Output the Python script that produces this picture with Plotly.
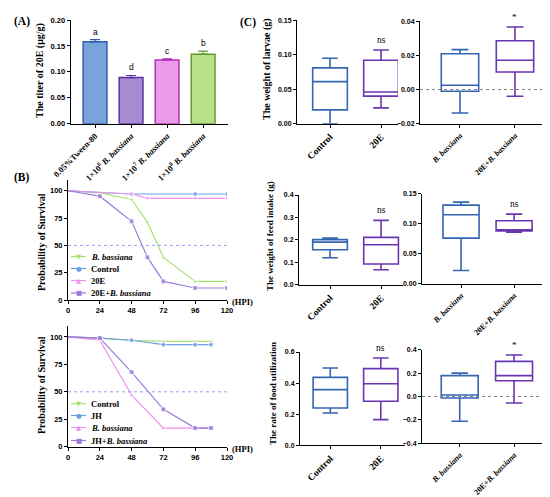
import plotly.graph_objects as go

FIG_W, FIG_H = 550, 497
SERIF = "Liberation Serif"
SANS = "Liberation Sans"

# ---------------- data ----------------
# (A) titer of 20E
titer_groups = ["0.05%Tween-80",
                "1×10<sup>6</sup> <i>B. bassiana</i>",
                "1×10<sup>7</sup> <i>B. bassiana</i>",
                "1×10<sup>8</sup> <i>B. bassiana</i>"]
titer_mean = [0.158, 0.089, 0.123, 0.134]
titer_sd = [0.004, 0.004, 0.002, 0.006]
titer_letters = ["a", "d", "c", "b"]

# (B) survival, upper panel
hpi_ticks = [0, 24, 48, 72, 96, 120]
surv_top_names = ["<i>B. bassiana</i>", "Control", "20E", "20E+<i>B. bassiana</i>"]
surv_top_hpi = [[0, 24, 48, 60, 72, 96, 120],
                [0, 48, 96, 120],
                [0, 48, 60, 96, 120],
                [0, 24, 48, 60, 72, 96, 120]]
surv_top_pct = [[100, 98, 92, 71, 39, 17, 17],
                [100, 97, 97, 97],
                [100, 97, 93, 93, 93],
                [100, 95, 72, 39, 17, 11, 11]]

# (B) survival, lower panel
surv_bot_names = ["Control", "JH", "<i>B. bassiana</i>", "JH+<i>B. bassiana</i>"]
surv_bot_hpi = [0, 24, 48, 72, 96, 108]
surv_bot_pct = [[100, 99, 97, 96, 96, 96],
                [100, 99, 97, 93, 93, 93],
                [100, 97, 47, 17, 17, 17],
                [100, 99, 68, 34, 17, 17]]

# (C) box plots: Control, 20E, B. bassiana, 20E+B. bassiana
box_groups = ["Control", "20E", "<i>B. bassiana</i>", "20E+<i>B. bassiana</i>"]
larvae_min = [0.000, 0.023, -0.0137, -0.0039]
larvae_q1 = [0.020, 0.040, -0.001, 0.0103]
larvae_med = [0.061, 0.046, 0.0025, 0.0172]
larvae_q3 = [0.081, 0.092, 0.021, 0.0286]
larvae_max = [0.095, 0.107, 0.0234, 0.0367]
larvae_sig = ["", "ns", "", "*"]

feed_min = [0.120, 0.067, 0.022, 0.086]
feed_q1 = [0.156, 0.092, 0.076, 0.088]
feed_med = [0.190, 0.178, 0.115, 0.090]
feed_q3 = [0.201, 0.211, 0.131, 0.105]
feed_max = [0.208, 0.287, 0.136, 0.116]
feed_sig = ["", "ns", "", "ns"]

util_min = [0.208, 0.165, -0.212, -0.056]
util_q1 = [0.240, 0.283, -0.013, 0.135]
util_med = [0.358, 0.396, 0.013, 0.178]
util_q3 = [0.437, 0.493, 0.178, 0.300]
util_max = [0.497, 0.561, 0.200, 0.355]
util_sig = ["", "ns", "", "*"]

# ---------------- styles ----------------
bar_fill = ["#7aa3da", "#a68bd3", "#e99be9", "#b8df8a"]
bar_edge = ["#2f5fb0", "#5b2fa0", "#b22fb2", "#5f9f2f"]
line_cols = ["#a9e072", "#6d9de3", "#ef8fef", "#9b7bd9"]
syms = ["triangle-down", "circle", "triangle-up", "square"]
glyphs = ["▼", "●", "▲", "■"]
box_cols = ["#3566b0", "#6a35b0", "#3566b0", "#6a35b0"]


def px_x(v):
    return v / FIG_W


def px_y(v):
    return 1 - v / FIG_H


def dom_x(a, b):
    return [px_x(a), px_x(b)]


def dom_y(top, bottom):
    return [px_y(bottom), px_y(top)]


def axis(**kw):
    base = dict(showline=True, linecolor="black", linewidth=1, ticks="outside",
                ticklen=3, tickwidth=1, tickcolor="black", showgrid=False,
                zeroline=False, fixedrange=True,
                tickfont=dict(family=SANS, size=7.5, color="black", weight="bold"))
    base.update(kw)
    return base


cat_font = dict(family=SERIF, size=8.5, color="black", weight="bold")

fig = go.Figure()
annotations = []
shapes = []

# ---------------- (A) ----------------
for i, g in enumerate(titer_groups):
    fig.add_trace(go.Bar(
        x=[g], y=[titer_mean[i]], xaxis="x", yaxis="y", width=0.66,
        marker=dict(color=bar_fill[i], line=dict(color=bar_edge[i], width=1.5)),
        error_y=dict(type="data", symmetric=False, array=[titer_sd[i]], arrayminus=[0],
                     color=bar_edge[i], thickness=1.2, width=5),
        showlegend=False))
    annotations.append(dict(x=g, y=titer_mean[i] + titer_sd[i], xref="x", yref="y",
                            text=titer_letters[i], showarrow=False, yanchor="bottom", yshift=1,
                            font=dict(family=SANS, size=8.5, color="black")))

# ---------------- (B) ----------------
for i in range(4):
    n = len(surv_top_hpi[i])
    fig.add_trace(go.Scatter(
        x=surv_top_hpi[i], y=surv_top_pct[i], xaxis="x2", yaxis="y2", mode="lines+markers",
        line=dict(color=line_cols[i], width=1.2),
        marker=dict(symbol=syms[i], size=[0] + [5] * (n - 1), color=line_cols[i]),
        name=surv_top_names[i], showlegend=False))

for i in range(4):
    n = len(surv_bot_hpi)
    fig.add_trace(go.Scatter(
        x=surv_bot_hpi, y=surv_bot_pct[i], xaxis="x3", yaxis="y3", mode="lines+markers",
        line=dict(color=line_cols[i], width=1.2),
        marker=dict(symbol=syms[i], size=[0] + [5] * (n - 1), color=line_cols[i]),
        name=surv_bot_names[i], showlegend=False))

for ax in ["2", "3"]:
    shapes.append(dict(type="line", xref="x%s domain" % ax, yref="y" + ax, x0=0, x1=1,
                       y0=50, y1=50, line=dict(color="#9a9af5", width=1, dash="dot")))


def legend_block(names, rows_y):
    for i, name in enumerate(names):
        yy = px_y(rows_y[i])
        shapes.append(dict(type="line", xref="paper", yref="paper", x0=px_x(63), x1=px_x(78),
                           y0=yy, y1=yy, line=dict(color=line_cols[i], width=1.2)))
        annotations.append(dict(x=px_x(70.5), y=yy, xref="paper", yref="paper", text=glyphs[i],
                                showarrow=False, xanchor="center", yanchor="middle",
                                font=dict(family="DejaVu Sans", size=6.5, color=line_cols[i])))
        annotations.append(dict(x=px_x(81), y=yy, xref="paper", yref="paper", text="<b>%s</b>" % name,
                                showarrow=False, xanchor="left", yanchor="middle",
                                font=dict(family=SERIF, size=8.5, color="black")))


legend_block(surv_top_names, [248.5, 260.5, 272.5, 285])
legend_block(surv_bot_names, [395.7, 407.5, 419.5, 432.5])

# ---------------- (C) ----------------
metrics = [
    (larvae_min, larvae_q1, larvae_med, larvae_q3, larvae_max, larvae_sig, ("4", "5")),
    (feed_min, feed_q1, feed_med, feed_q3, feed_max, feed_sig, ("6", "7")),
    (util_min, util_q1, util_med, util_q3, util_max, util_sig, ("8", "9")),
]
for mn, q1, md, q3, mx, sig, (axl, axr) in metrics:
    for i, g in enumerate(box_groups):
        ax = axl if i < 2 else axr
        fig.add_trace(go.Box(
            x=[g], q1=[q1[i]], median=[md[i]], q3=[q3[i]], lowerfence=[mn[i]], upperfence=[mx[i]],
            xaxis="x" + ax, yaxis="y" + ax, width=0.68, whiskerwidth=0.45,
            line=dict(color=box_cols[i], width=1.6), fillcolor="rgba(0,0,0,0)",
            boxpoints=False, hoverinfo="skip", showlegend=False))
        if sig[i]:
            annotations.append(dict(x=g, y=mx[i], xref="x" + ax, yref="y" + ax, text=sig[i],
                                    showarrow=False, yanchor="bottom", yshift=3,
                                    font=dict(family=SERIF, size=9.5 if sig[i] == "ns" else 9,
                                              color="black")))

for ax in ["5", "9"]:
    shapes.append(dict(type="line", xref="x%s domain" % ax, yref="y" + ax, x0=0, x1=1,
                       y0=0, y1=0, line=dict(color="#808080", width=1, dash="dot")))


# ---------------- text labels ----------------
def label(x, y, text, size, angle=0, anchor="center", family=SERIF):
    annotations.append(dict(x=px_x(x), y=px_y(y), xref="paper", yref="paper", text=text,
                            showarrow=False, textangle=angle, xanchor=anchor, yanchor="middle",
                            font=dict(family=family, size=size, color="black")))


label(4, 14, "<b>(A)</b>", 11.5, anchor="left")
label(4, 169, "<b>(B)</b>", 11.5, anchor="left")
label(230, 15, "<b>(C)</b>", 11.5, anchor="left")
label(32, 63, "<b>The titer of 20E (μg/g)</b>", 10, angle=-90)
label(33, 234, "<b>Probability of Survival</b>", 10, angle=-90)
label(33, 377, "<b>Probability of Survival</b>", 10, angle=-90)
label(259, 61, "<b>The weight of larvae (g)</b>", 10, angle=-90)
label(262, 228, "<b>The weight of feed intake (g)</b>", 9, angle=-90)
label(265, 386, "<b>The rate of food utilization</b>", 9, angle=-90)
label(222, 294, "<b>(HPI)</b>", 8.5, anchor="left")
label(222, 441, "<b>(HPI)</b>", 8.5, anchor="left")

# ---------------- axes ----------------
layout = dict(
    width=FIG_W, height=FIG_H, margin=dict(l=0, r=0, t=0, b=0),
    paper_bgcolor="white", plot_bgcolor="rgba(0,0,0,0)", showlegend=False,
    annotations=annotations, shapes=shapes, template="none", boxmode="overlay",
)

layout["xaxis"] = axis(domain=dom_x(62.7, 220), anchor="y", type="category",
                       range=[-0.675, 3.69], tickangle=-45, tickfont=cat_font)
layout["yaxis"] = axis(domain=dom_y(12, 115.7), anchor="x", range=[0, 0.2],
                       tickvals=[0, 0.05, 0.10, 0.15, 0.20], tickformat=".2f")

for ax, top, bot in [("2", 171.8, 292), ("3", 318, 438.7)]:
    layout["xaxis" + ax] = axis(domain=dom_x(60, 219), anchor="y" + ax, range=[0, 120],
                                tickvals=hpi_ticks)
    layout["yaxis" + ax] = axis(domain=dom_y(top, bot), anchor="x" + ax, range=[0, 110],
                                tickvals=[0, 25, 50, 75, 100])

cat_l = dict(family=SERIF, size=9.5, color="black", weight="bold")
cat_r = dict(family=SERIF, size=8, color="black", weight="bold")
c_axes = [
    ("4", (289, 390), (12.3, 115.7), [-0.647, 1.333], [0, 0.15], [0, 0.05, 0.10, 0.15], ".2f", cat_l),
    ("5", (412, 543), (13.3, 115.7), [-0.727, 1.655], [-0.02, 0.04], [-0.02, 0, 0.02, 0.04], ".2f", cat_r),
    ("6", (291, 395), (187, 276.7), [-0.608, 1.43], [0, 0.4], [0, 0.1, 0.2, 0.3, 0.4], ".1f", cat_l),
    ("7", (414, 548), (185.7, 275.7), [-0.736, 1.79], [0, 0.15], [0, 0.05, 0.10, 0.15], ".2f", cat_r),
    ("8", (292, 397), (344, 437.3), [-0.6, 1.48], [0, 0.6], [0, 0.2, 0.4, 0.6], ".1f", cat_l),
    ("9", (414, 543), (341.7, 435.3), [-0.694, 1.68], [-0.4, 0.4], [-0.4, -0.2, 0, 0.2, 0.4], ".1f", cat_r),
]
for ax, xs, ys, xr, yr, yt, fmt, cf in c_axes:
    layout["xaxis" + ax] = axis(domain=dom_x(*xs), anchor="y" + ax, type="category", range=xr,
                                tickangle=-45, tickfont=cf)
    layout["yaxis" + ax] = axis(domain=dom_y(*ys), anchor="x" + ax, range=yr, tickvals=yt,
                                tickformat=fmt, tickfont=dict(family=SANS, size=7, color="black",
                                                              weight="bold"))

fig.update_layout(**layout)
fig.write_html("out.html")
